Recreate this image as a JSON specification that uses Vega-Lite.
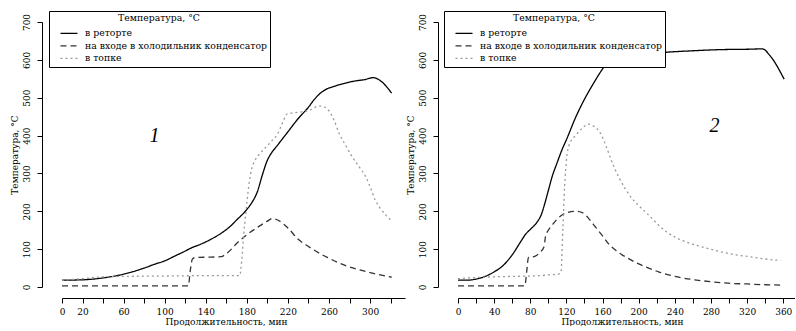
{
  "$schema": "https://vega.github.io/schema/vega-lite/v6.json",
  "padding": {"left": 10, "top": 10, "right": 0, "bottom": 0},
  "bounds": "flush",
  "spacing": 53,
  "background": "white",
  "config": {
    "view": {"stroke": null},
    "font": "DejaVu Serif",
    "axis": {
      "grid": false,
      "domainColor": "black",
      "tickColor": "black",
      "labelColor": "black",
      "titleColor": "black",
      "labelFont": "DejaVu Serif",
      "titleFont": "DejaVu Serif",
      "titleFontWeight": "normal",
      "labelFontSize": 9,
      "titleFontSize": 9,
      "tickSize": 5,
      "domainWidth": 1,
      "tickWidth": 1,
      "tickCount": 100,
      "labelOverlap": false,
      "labelFlush": false
    },
    "legend": {
      "strokeColor": "black",
      "fillColor": "white",
      "padding": 3,
      "titleAnchor": "middle",
      "titleFontWeight": "normal",
      "titleFont": "DejaVu Serif",
      "titleFontSize": 9.3,
      "titleColor": "black",
      "labelFont": "DejaVu Serif",
      "labelFontSize": 9.3,
      "labelColor": "black",
      "labelLimit": 400,
      "symbolType": "M-1.7,0H1.7",
      "symbolSize": 100,
      "symbolStrokeWidth": 1.3,
      "symbolOffset": 11,
      "rowPadding": 0.5,
      "titlePadding": 4,
      "labelOffset": 10
    }
  },
  "datasets": {
    "p1": [
      {"s": "в реторте", "t": 0, "v": 18}, {"s": "в реторте", "t": 20, "v": 19}, {"s": "в реторте", "t": 40, "v": 24}, {"s": "в реторте", "t": 60, "v": 34}, {"s": "в реторте", "t": 80, "v": 50}, {"s": "в реторте", "t": 90, "v": 60}, {"s": "в реторте", "t": 100, "v": 69}, {"s": "в реторте", "t": 110, "v": 82}, {"s": "в реторте", "t": 120, "v": 95}, {"s": "в реторте", "t": 125, "v": 102}, {"s": "в реторте", "t": 135, "v": 113}, {"s": "в реторте", "t": 145, "v": 126}, {"s": "в реторте", "t": 155, "v": 142}, {"s": "в реторте", "t": 165, "v": 163}, {"s": "в реторте", "t": 170, "v": 177}, {"s": "в реторте", "t": 175, "v": 190}, {"s": "в реторте", "t": 180, "v": 205}, {"s": "в реторте", "t": 186, "v": 228}, {"s": "в реторте", "t": 190, "v": 250}, {"s": "в реторте", "t": 195, "v": 295}, {"s": "в реторте", "t": 200, "v": 335}, {"s": "в реторте", "t": 203, "v": 350}, {"s": "в реторте", "t": 210, "v": 375}, {"s": "в реторте", "t": 220, "v": 410}, {"s": "в реторте", "t": 230, "v": 445}, {"s": "в реторте", "t": 240, "v": 475}, {"s": "в реторте", "t": 245, "v": 493}, {"s": "в реторте", "t": 250, "v": 508}, {"s": "в реторте", "t": 257, "v": 522}, {"s": "в реторте", "t": 265, "v": 530}, {"s": "в реторте", "t": 275, "v": 538}, {"s": "в реторте", "t": 285, "v": 544}, {"s": "в реторте", "t": 295, "v": 548}, {"s": "в реторте", "t": 303, "v": 553}, {"s": "в реторте", "t": 310, "v": 545}, {"s": "в реторте", "t": 321, "v": 512},
      {"s": "на входе в холодильник конденсатор", "t": 0, "v": 3}, {"s": "на входе в холодильник конденсатор", "t": 60, "v": 3}, {"s": "на входе в холодильник конденсатор", "t": 123, "v": 3}, {"s": "на входе в холодильник конденсатор", "t": 125, "v": 45}, {"s": "на входе в холодильник конденсатор", "t": 127, "v": 74}, {"s": "на входе в холодильник конденсатор", "t": 130, "v": 78}, {"s": "на входе в холодильник конденсатор", "t": 145, "v": 79}, {"s": "на входе в холодильник конденсатор", "t": 155, "v": 80}, {"s": "на входе в холодильник конденсатор", "t": 160, "v": 88}, {"s": "на входе в холодильник конденсатор", "t": 165, "v": 100}, {"s": "на входе в холодильник конденсатор", "t": 170, "v": 115}, {"s": "на входе в холодильник конденсатор", "t": 175, "v": 127}, {"s": "на входе в холодильник конденсатор", "t": 180, "v": 138}, {"s": "на входе в холодильник конденсатор", "t": 190, "v": 157}, {"s": "на входе в холодильник конденсатор", "t": 200, "v": 174}, {"s": "на входе в холодильник конденсатор", "t": 205, "v": 181}, {"s": "на входе в холодильник конденсатор", "t": 210, "v": 177}, {"s": "на входе в холодильник конденсатор", "t": 220, "v": 156}, {"s": "на входе в холодильник конденсатор", "t": 230, "v": 126}, {"s": "на входе в холодильник конденсатор", "t": 240, "v": 107}, {"s": "на входе в холодильник конденсатор", "t": 250, "v": 90}, {"s": "на входе в холодильник конденсатор", "t": 260, "v": 76}, {"s": "на входе в холодильник конденсатор", "t": 270, "v": 63}, {"s": "на входе в холодильник конденсатор", "t": 280, "v": 53}, {"s": "на входе в холодильник конденсатор", "t": 290, "v": 45}, {"s": "на входе в холодильник конденсатор", "t": 300, "v": 38}, {"s": "на входе в холодильник конденсатор", "t": 310, "v": 32}, {"s": "на входе в холодильник конденсатор", "t": 321, "v": 26},
      {"s": "в топке", "t": 0, "v": 18}, {"s": "в топке", "t": 20, "v": 22}, {"s": "в топке", "t": 40, "v": 27}, {"s": "в топке", "t": 60, "v": 28}, {"s": "в топке", "t": 100, "v": 29}, {"s": "в топке", "t": 140, "v": 30}, {"s": "в топке", "t": 173, "v": 30}, {"s": "в топке", "t": 175, "v": 70}, {"s": "в топке", "t": 177, "v": 140}, {"s": "в топке", "t": 179, "v": 195}, {"s": "в топке", "t": 182, "v": 270}, {"s": "в топке", "t": 185, "v": 315}, {"s": "в топке", "t": 188, "v": 335}, {"s": "в топке", "t": 192, "v": 350}, {"s": "в топке", "t": 198, "v": 368}, {"s": "в топке", "t": 204, "v": 385}, {"s": "в топке", "t": 210, "v": 405}, {"s": "в топке", "t": 215, "v": 435}, {"s": "в топке", "t": 219, "v": 457}, {"s": "в топке", "t": 225, "v": 460}, {"s": "в топке", "t": 234, "v": 463}, {"s": "в топке", "t": 242, "v": 468}, {"s": "в топке", "t": 250, "v": 478}, {"s": "в топке", "t": 255, "v": 476}, {"s": "в топке", "t": 260, "v": 465}, {"s": "в топке", "t": 265, "v": 440}, {"s": "в топке", "t": 270, "v": 405}, {"s": "в топке", "t": 276, "v": 375}, {"s": "в топке", "t": 283, "v": 342}, {"s": "в топке", "t": 290, "v": 315}, {"s": "в топке", "t": 296, "v": 290}, {"s": "в топке", "t": 300, "v": 265}, {"s": "в топке", "t": 305, "v": 230}, {"s": "в топке", "t": 310, "v": 208}, {"s": "в топке", "t": 316, "v": 188}, {"s": "в топке", "t": 321, "v": 175}
    ],
    "p2": [
      {"s": "в реторте", "t": 0, "v": 18}, {"s": "в реторте", "t": 10, "v": 18}, {"s": "в реторте", "t": 20, "v": 21}, {"s": "в реторте", "t": 30, "v": 28}, {"s": "в реторте", "t": 40, "v": 40}, {"s": "в реторте", "t": 50, "v": 57}, {"s": "в реторте", "t": 60, "v": 85}, {"s": "в реторте", "t": 70, "v": 122}, {"s": "в реторте", "t": 75, "v": 140}, {"s": "в реторте", "t": 80, "v": 152}, {"s": "в реторте", "t": 88, "v": 173}, {"s": "в реторте", "t": 92, "v": 190}, {"s": "в реторте", "t": 96, "v": 220}, {"s": "в реторте", "t": 100, "v": 255}, {"s": "в реторте", "t": 104, "v": 290}, {"s": "в реторте", "t": 110, "v": 330}, {"s": "в реторте", "t": 115, "v": 362}, {"s": "в реторте", "t": 120, "v": 389}, {"s": "в реторте", "t": 130, "v": 447}, {"s": "в реторте", "t": 140, "v": 496}, {"s": "в реторте", "t": 150, "v": 538}, {"s": "в реторте", "t": 160, "v": 576}, {"s": "в реторте", "t": 165, "v": 592}, {"s": "в реторте", "t": 170, "v": 600}, {"s": "в реторте", "t": 180, "v": 607}, {"s": "в реторте", "t": 200, "v": 613}, {"s": "в реторте", "t": 230, "v": 620}, {"s": "в реторте", "t": 260, "v": 624}, {"s": "в реторте", "t": 290, "v": 627}, {"s": "в реторте", "t": 320, "v": 628}, {"s": "в реторте", "t": 337, "v": 629}, {"s": "в реторте", "t": 345, "v": 612}, {"s": "в реторте", "t": 361, "v": 549},
      {"s": "на входе в холодильник конденсатор", "t": 0, "v": 3}, {"s": "на входе в холодильник конденсатор", "t": 74, "v": 3}, {"s": "на входе в холодильник конденсатор", "t": 76, "v": 40}, {"s": "на входе в холодильник конденсатор", "t": 78, "v": 78}, {"s": "на входе в холодильник конденсатор", "t": 85, "v": 81}, {"s": "на входе в холодильник конденсатор", "t": 91, "v": 92}, {"s": "на входе в холодильник конденсатор", "t": 95, "v": 105}, {"s": "на входе в холодильник конденсатор", "t": 97, "v": 135}, {"s": "на входе в холодильник конденсатор", "t": 100, "v": 150}, {"s": "на входе в холодильник конденсатор", "t": 105, "v": 166}, {"s": "на входе в холодильник конденсатор", "t": 110, "v": 180}, {"s": "на входе в холодильник конденсатор", "t": 115, "v": 190}, {"s": "на входе в холодильник конденсатор", "t": 120, "v": 196}, {"s": "на входе в холодильник конденсатор", "t": 130, "v": 200}, {"s": "на входе в холодильник конденсатор", "t": 137, "v": 197}, {"s": "на входе в холодильник конденсатор", "t": 145, "v": 180}, {"s": "на входе в холодильник конденсатор", "t": 150, "v": 165}, {"s": "на входе в холодильник конденсатор", "t": 155, "v": 150}, {"s": "на входе в холодильник конденсатор", "t": 160, "v": 135}, {"s": "на входе в холодильник конденсатор", "t": 166, "v": 116}, {"s": "на входе в холодильник конденсатор", "t": 175, "v": 96}, {"s": "на входе в холодильник конденсатор", "t": 188, "v": 76}, {"s": "на входе в холодильник конденсатор", "t": 200, "v": 61}, {"s": "на входе в холодильник конденсатор", "t": 211, "v": 50}, {"s": "на входе в холодильник конденсатор", "t": 222, "v": 40}, {"s": "на входе в холодильник конденсатор", "t": 233, "v": 32}, {"s": "на входе в холодильник конденсатор", "t": 248, "v": 24}, {"s": "на входе в холодильник конденсатор", "t": 262, "v": 19}, {"s": "на входе в холодильник конденсатор", "t": 280, "v": 14}, {"s": "на входе в холодильник конденсатор", "t": 299, "v": 10}, {"s": "на входе в холодильник конденсатор", "t": 320, "v": 8}, {"s": "на входе в холодильник конденсатор", "t": 340, "v": 6}, {"s": "на входе в холодильник конденсатор", "t": 359, "v": 5},
      {"s": "в топке", "t": 0, "v": 22}, {"s": "в топке", "t": 20, "v": 25}, {"s": "в топке", "t": 40, "v": 27}, {"s": "в топке", "t": 60, "v": 28}, {"s": "в топке", "t": 80, "v": 29}, {"s": "в топке", "t": 92, "v": 30}, {"s": "в топке", "t": 100, "v": 32}, {"s": "в топке", "t": 111, "v": 34}, {"s": "в топке", "t": 114, "v": 40}, {"s": "в топке", "t": 116, "v": 150}, {"s": "в топке", "t": 118, "v": 265}, {"s": "в топке", "t": 120, "v": 335}, {"s": "в топке", "t": 123, "v": 375}, {"s": "в топке", "t": 130, "v": 400}, {"s": "в топке", "t": 137, "v": 418}, {"s": "в топке", "t": 144, "v": 430}, {"s": "в топке", "t": 150, "v": 425}, {"s": "в топке", "t": 156, "v": 412}, {"s": "в топке", "t": 160, "v": 395}, {"s": "в топке", "t": 165, "v": 365}, {"s": "в топке", "t": 170, "v": 333}, {"s": "в топке", "t": 178, "v": 290}, {"s": "в топке", "t": 185, "v": 260}, {"s": "в топке", "t": 193, "v": 233}, {"s": "в топке", "t": 200, "v": 215}, {"s": "в топке", "t": 211, "v": 190}, {"s": "в топке", "t": 220, "v": 168}, {"s": "в топке", "t": 230, "v": 147}, {"s": "в топке", "t": 240, "v": 132}, {"s": "в топке", "t": 256, "v": 116}, {"s": "в топке", "t": 270, "v": 106}, {"s": "в топке", "t": 289, "v": 94}, {"s": "в топке", "t": 305, "v": 86}, {"s": "в топке", "t": 326, "v": 79}, {"s": "в топке", "t": 340, "v": 74}, {"s": "в топке", "t": 357, "v": 70}
    ]
  },
  "resolve": {"legend": {"color": "independent", "strokeDash": "independent"}},
  "hconcat": [
    {
      "width": 343,
      "height": 265,
      "layer": [
        {
          "data": {"name": "p1"},
          "mark": {"type": "line", "strokeWidth": 1.3, "interpolate": "monotone"},
          "encoding": {
            "x": {"field": "t", "type": "quantitative", "scale": {"domain": [0, 334], "nice": false, "zero": false},
              "axis": {"values": [0, 20, 40, 60, 80, 100, 120, 140, 160, 180, 200, 220, 240, 260, 280, 300, 320], "offset": 11, "labelPadding": 4, "labelExpr": "(datum.value == 0 || datum.value % 40 == 20) ? datum.label : ''", "title": "Продолжительность, мин", "titleX": 164, "titleAlign": "center", "titlePadding": 1}},
            "y": {"field": "v", "type": "quantitative", "scale": {"domain": [0, 700], "nice": false},
              "axis": {"values": [0, 100, 200, 300, 400, 500, 600, 700], "offset": 20, "labelAngle": -90, "labelAlign": "center", "labelBaseline": "bottom", "labelPadding": 6, "title": "Температура, °C", "titlePadding": 3}},
            "color": {"field": "s", "type": "nominal",
              "scale": {"domain": ["в реторте", "на входе в холодильник конденсатор", "в топке"], "range": ["#000000", "#333333", "#999999"]},
              "legend": {"orient": "none", "legendX": -13, "legendY": -11, "title": "Температура, °C"}},
            "strokeDash": {"field": "s", "type": "nominal",
              "scale": {"domain": ["в реторте", "на входе в холодильник конденсатор", "в топке"], "range": [[1, 0], [6, 4], [2, 3]]},
              "legend": {"orient": "none", "legendX": -13, "legendY": -11, "title": "Температура, °C"}}
          }
        },
        {
          "data": {"values": [{"t": 90, "v": 400, "n": "1"}]},
          "mark": {"type": "text", "font": "Liberation Serif", "fontStyle": "italic", "fontSize": 20, "baseline": "middle", "align": "center"},
          "encoding": {
            "x": {"field": "t", "type": "quantitative"},
            "y": {"field": "v", "type": "quantitative"},
            "text": {"field": "n"}
          }
        }
      ]
    },
    {
      "width": 337,
      "height": 265,
      "layer": [
        {
          "data": {"name": "p2"},
          "mark": {"type": "line", "strokeWidth": 1.3, "interpolate": "monotone"},
          "encoding": {
            "x": {"field": "t", "type": "quantitative", "scale": {"domain": [0, 373], "nice": false, "zero": false},
              "axis": {"values": [0, 20, 40, 60, 80, 100, 120, 140, 160, 180, 200, 220, 240, 260, 280, 300, 320, 340, 360], "offset": 11, "labelPadding": 4, "labelExpr": "(datum.value % 40 == 0) ? datum.label : ''", "title": "Продолжительность, мин", "titleX": 164, "titleAlign": "center", "titlePadding": 1}},
            "y": {"field": "v", "type": "quantitative", "scale": {"domain": [0, 700], "nice": false},
              "axis": {"values": [0, 100, 200, 300, 400, 500, 600, 700], "offset": 20, "labelAngle": -90, "labelAlign": "center", "labelBaseline": "bottom", "labelPadding": 6, "title": "Температура, °C", "titlePadding": 3}},
            "color": {"field": "s", "type": "nominal",
              "scale": {"domain": ["в реторте", "на входе в холодильник конденсатор", "в топке"], "range": ["#000000", "#333333", "#999999"]},
              "legend": {"orient": "none", "legendX": -14, "legendY": -11, "title": "Температура, °C"}},
            "strokeDash": {"field": "s", "type": "nominal",
              "scale": {"domain": ["в реторте", "на входе в холодильник конденсатор", "в топке"], "range": [[1, 0], [6, 4], [2, 3]]},
              "legend": {"orient": "none", "legendX": -14, "legendY": -11, "title": "Температура, °C"}}
          }
        },
        {
          "data": {"values": [{"t": 284, "v": 425, "n": "2"}]},
          "mark": {"type": "text", "font": "Liberation Serif", "fontStyle": "italic", "fontSize": 20, "baseline": "middle", "align": "center"},
          "encoding": {
            "x": {"field": "t", "type": "quantitative"},
            "y": {"field": "v", "type": "quantitative"},
            "text": {"field": "n"}
          }
        }
      ]
    }
  ]
}
